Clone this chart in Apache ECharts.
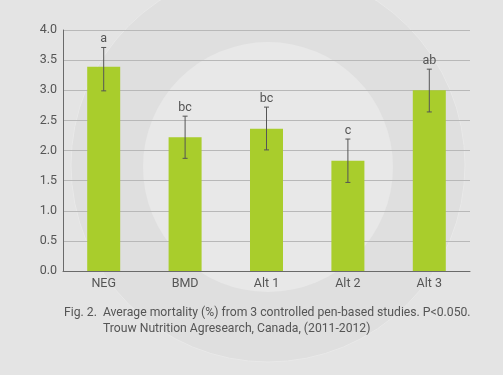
<!DOCTYPE html>
<html><head><meta charset="utf-8">
<script src="https://cdn.jsdelivr.net/npm/echarts@6/dist/echarts.min.js"></script>
<style>html,body{margin:0;padding:0;background:#e4e4e4;}#c{width:503px;height:375px;}</style>
</head><body><div id="c"></div>
<script>
var categories = ['NEG', 'BMD', 'Alt 1', 'Alt 2', 'Alt 3'];
var means = [3.39, 2.22, 2.36, 1.83, 3.00];
var errLow = [2.99, 1.87, 2.01, 1.47, 2.64];
var errHigh = [3.71, 2.57, 2.72, 2.19, 3.35];
var letters = ['a', 'bc', 'bc', 'c', 'ab'];
var yTicks = [0, 0.5, 1, 1.5, 2, 2.5, 3, 3.5, 4];
var captionLine1 = 'Fig. 2.  Average mortality (%) from 3 controlled pen-based studies. P<0.050.';
var captionLine2 = 'Trouw Nutrition Agresearch, Canada, (2011-2012)';

var FONT = 'Roboto, "Liberation Sans", sans-serif';
var chart = echarts.init(document.getElementById('c'), null, {renderer: 'canvas'});
var errData = categories.map(function (c, i) { return [i, errLow[i], errHigh[i], letters[i]]; });

chart.setOption({
  backgroundColor: '#e4e4e4',
  animation: false,
  graphic: [
    {type: 'circle', z: -10, silent: true, shape: {cx: 268, cy: 165, r: 197}, style: {fill: '#dfdfdf', stroke: '#e9e9e9', lineWidth: 1}},
    {type: 'circle', z: -9, silent: true, shape: {cx: 268, cy: 167, r: 125}, style: {fill: '#e8e8e8'}},
    {type: 'text', left: 64, top: 307, style: {text: captionLine1, font: '12.2px ' + FONT, fill: '#555'}},
    {type: 'text', left: 103, top: 323, style: {text: captionLine2, font: '12.2px ' + FONT, fill: '#555'}}
  ],
  grid: {left: 63, right: 33, top: 30, bottom: 104, containLabel: false},
  xAxis: {
    type: 'category', data: categories,
    axisLine: {lineStyle: {color: '#6a6a6a', width: 1}},
    axisTick: {show: false},
    axisLabel: {color: '#555', fontFamily: FONT, fontSize: 12.5, margin: 6}
  },
  yAxis: {
    type: 'value', min: 0, max: 4, interval: 0.5,
    axisLine: {show: true, lineStyle: {color: '#6a6a6a', width: 1}},
    axisTick: {show: false},
    axisLabel: {color: '#555', fontFamily: FONT, fontSize: 12.5, margin: 6,
      formatter: function (v) { return yTicks.indexOf(v) >= 0 ? v.toFixed(1) : ''; }},
    splitLine: {lineStyle: {color: '#b8b8b8', width: 1}}
  },
  series: [
    {type: 'bar', data: means, barWidth: 33, itemStyle: {color: '#a9cd2c'}, z: 2},
    {
      type: 'custom', data: errData, z: 3,
      renderItem: function (params, api) {
        var x = api.value(0);
        var lo = api.coord([x, api.value(1)]);
        var hi = api.coord([x, api.value(2)]);
        var cw = 2.5;
        var st = {stroke: '#555', lineWidth: 1};
        return {type: 'group', children: [
          {type: 'line', shape: {x1: lo[0], y1: lo[1], x2: hi[0], y2: hi[1]}, style: st},
          {type: 'line', shape: {x1: lo[0] - cw, y1: lo[1], x2: lo[0] + cw, y2: lo[1]}, style: st},
          {type: 'line', shape: {x1: hi[0] - cw, y1: hi[1], x2: hi[0] + cw, y2: hi[1]}, style: st},
          {type: 'text', style: {text: api.value(3), x: hi[0], y: hi[1] - 2, align: 'center', verticalAlign: 'bottom',
            font: '12.5px ' + FONT, fill: '#555'}}
        ]};
      }
    }
  ]
});
</script></body></html>
